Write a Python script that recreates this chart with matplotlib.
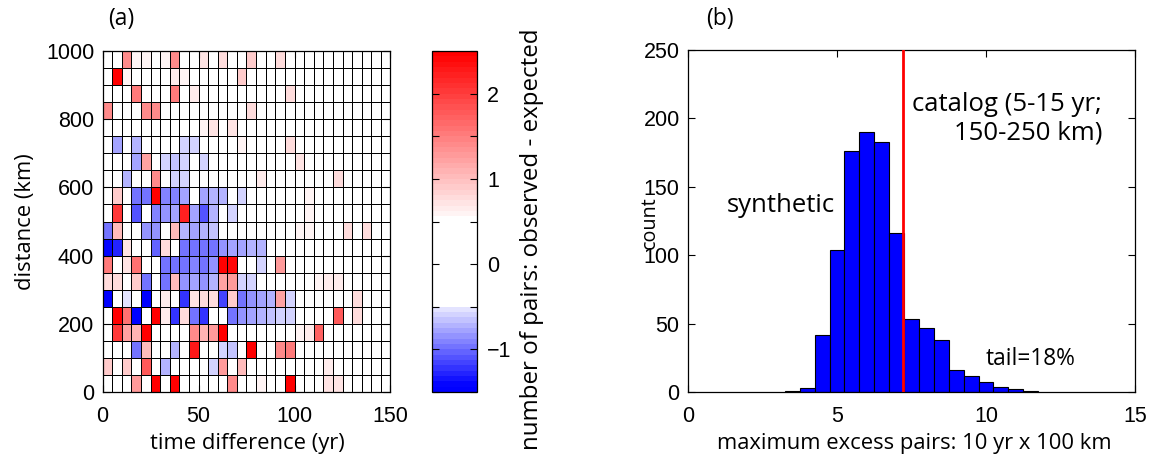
import numpy as np
import matplotlib
matplotlib.use("Agg")
import matplotlib.pyplot as plt
from matplotlib.colors import ListedColormap
from matplotlib.ticker import MultipleLocator

# ---------------- data ----------------
# panel (a): observed - expected pairs, rows from 950-1000 km (top) down to 0-50 km
excess_top_to_bottom = [
    [0, 0, 1.4, .6, .6, 0, .6, 1.4, 0, 0, .7, 0, .8, 0, 0, .9, 0, 0, .8, 0, 0, 0, 0, 0, 0, 0, 0, 0, 0, 0],
    [0, 2.5, .6, 0, 0, 0, 0, .65, .6, 0, 0, 0, 0, 0, .9, 0, 0, 0, 0, 0, 0, 0, 0, 0, 0, 0, 0, 0, 0, 0],
    [0, 0, 0, 1.5, 0, 0, 0, 1.5, 0, .65, 0, 0, 0, 0, 0, 0, 0, 0, 0, .8, 0, 0, 0, 0, 0, 0, 0, 0, 0, 0],
    [1.4, 0, 0, 0, 1.4, 1.4, 0, 0, 0, 0, 0, 0, 0, 0, 0, .8, 0, 0, 0, 0, 0, 0, 0, 0, 0, 0, 0, 0, 0, 0],
    [0, 0, 0, 0, 0, 0, 0, 0, 0, 0, .6, .7, 0, .7, 0, 0, 0, 0, 0, 0, 0, 0, 0, 0, 0, 0, 0, 0, 0, 0],
    [0, -.8, 0, -.75, 0, 0, 0, 0, -.6, -.6, 0, 0, 0, 0, .6, 0, 0, 0, 0, .8, 0, 0, 0, 0, 0, 0, 0, 0, 0, 0],
    [0, 0, 0, -.8, 1.2, 0, -.6, -.65, -.6, 0, -.6, 0, 0, 0, 0, 0, 0, 0, 0, 0, .7, 0, 0, 0, 0, 0, 0, 0, 0, 0],
    [0, 0, -.7, 0, 0, 1.4, 0, -.6, -.6, 0, 0, 0, 0, 0, 0, 0, .65, 0, 0, 0, 0, 0, 0, 0, .8, 0, 0, 0, 0, 0],
    [0, .9, 0, -1, -1, 2.5, -.9, -.9, -.8, 0, -.8, -.75, -.7, 0, -.6, 0, 0, 0, 0, 0, 0, .6, 0, 0, 0, 0, 0, 0, 0, 0],
    [0, 2, 0, -1.1, 0, -.9, -.85, -.8, 2.2, -.8, -1.1, -.75, 0, -.6, 0, 0, 0, 0, 0, 0, 0, .6, 0, 0, 0, 0, 0, 0, 0, 0],
    [-1, 1, 0, 0, -.85, -.85, 0, 1, -.75, -.8, -.75, -.65, 0, 0, 0, 0, 0, 0, 0, 0, .6, .6, 0, 0, 0, .8, 0, .8, 0, 0],
    [-1.4, -1.3, .7, 0, 0, -1.05, .8, 0, -.95, -1, -1, -.95, -.85, -.8, -.8, -.75, -.7, 0, 0, 0, 0, 0, 0, 0, 0, 0, 0, 0, 0, 0],
    [1.5, 0, .7, 1.6, 0, 0, -1, -1, -.95, -.9, -.95, -.85, 2.5, 2.4, 0, 0, -.6, 0, 1.3, 0, 0, 0, 0, 0, 0, 0, 0, 0, 0, 0],
    [.8, .8, 0, .9, -1, 0, -.95, 1, -.85, -.8, -.85, -.75, 1.2, 1.3, -.6, -.6, 0, 0, 0, 0, 0, 0, .6, .65, .65, 0, 0, 0, 0, 0],
    [-1.5, 0, -.55, 0, -1.5, 0, .65, 0, -1.25, .7, .8, .8, -1.15, .9, -.95, -.85, -.8, -.75, 1.2, -.6, 0, 0, 0, 0, 0, 0, .75, 0, 0, 0],
    [0, 2.5, 1.6, -1.45, 0, 2.5, .65, -1.2, .8, -1, -1.2, 0, 0, -1, -.85, -.8, -.75, -.65, -.6, -.6, 0, 0, 0, 0, 1.8, 0, .8, 0, 0, 0],
    [0, 2, 1.2, 1.1, 2.5, 0, 0, 0, 0, 1.4, 1.1, 1.3, 2.5, 0, 0, 0, 0, 0, 0, 0, .6, .65, 1.7, 0, 0, 0, 0, 0, 0, 0],
    [0, 0, 0, -1, 1, 0, 0, -.75, 0, 2.3, 0, 0, -.6, -.65, 0, 2.5, 0, 0, 1.4, 1.5, 0, 0, 0, 0, 0, 0, 0, 0, 0, 0],
    [.9, 0, .9, 0, 1.8, 0, -.7, 0, 0, 0, 0, -.6, 1.3, 0, 1, 0, 0, 0, 0, 0, 0, 0, 0, .65, 0, 0, 0, 0, 0, 0],
    [0, 0, 0, 1.3, 0, 2.5, 0, 2.5, 0, 0, 0, 0, 0, 1.4, 0, 0, .6, .55, 0, 2.5, 0, 0, 0, .7, .7, 0, 0, 0, 0, 0],
]
time_bin_yr = 5
distance_bin_km = 50
cbar_ticks = [-1, 0, 1, 2]

# panel (b): histogram of maximum excess pairs in synthetic catalogs
hist_centers = [3.5, 4.0, 4.5, 5.0, 5.5, 6.0, 6.5, 7.0, 7.5, 8.0, 8.5, 9.0, 9.5, 10.0, 10.5, 11.0, 11.5]
hist_counts = [1, 3, 42, 104, 176, 190, 183, 116, 53, 47, 38, 16, 12, 7, 4, 2, 1]
catalog_value = 7.22

# ---------------- style ----------------
TICKFONT = "Liberation Sans"
LABFONT = "Open Sans"
TFS = 15.5
LFS = 15.8
ANNFS = 18.5

W, H = 1149.0, 458.0
fig = plt.figure(figsize=(W / 100, H / 100), dpi=100)

# colormap: blue -> white plateau -> red (64 levels)
vmin, vmax = -1.5, 2.5
nlev = 64
edges = np.linspace(vmin, vmax, nlev + 1)
mids = 0.5 * (edges[:-1] + edges[1:])
cols = []
for v in mids:
    if v < -0.5:
        t = min(1.0, (-0.5 - v) / 1.0 + 0.08)
        cols.append((1 - t, 1 - t, 1.0))
    elif v > 0.55:
        t = min(1.0, (v - 0.55) / 1.95 + 0.02)
        cols.append((1.0, 1 - t, 1 - t))
    else:
        cols.append((1.0, 1.0, 1.0))
cmap = ListedColormap(cols)

Z = np.flipud(np.array(excess_top_to_bottom, dtype=float))
nrow, ncol = Z.shape
t_edges = np.arange(ncol + 1) * time_bin_yr
d_edges = np.arange(nrow + 1) * distance_bin_km


def style_ticks(ax):
    ax.tick_params(direction="in", length=5, width=0.8, top=True, right=True,
                   labelsize=TFS)
    ax.tick_params(axis="x", pad=10)
    ax.tick_params(axis="y", pad=6)
    for lab in ax.get_xticklabels() + ax.get_yticklabels():
        lab.set_fontfamily(TICKFONT)
    for s in ax.spines.values():
        s.set_linewidth(0.9)


def fx(px):
    return px / W


def fy(py):
    return 1 - py / H


# ---- panel (a) ----
axA = fig.add_axes([102.5 / W, (H - 392) / H, 288 / W, 341 / H])
mesh = axA.pcolormesh(t_edges, d_edges, Z, cmap=cmap, vmin=vmin, vmax=vmax,
                      edgecolors="k", linewidth=0.6)
axA.set_xlim(0, ncol * time_bin_yr)
axA.set_ylim(0, nrow * distance_bin_km)
axA.set_xticks([0, 50, 100, 150])
axA.set_yticks(np.arange(0, 1001, 200))
style_ticks(axA)
fig.text(fx(247), fy(443), "time difference (yr)", fontfamily=LABFONT,
         fontsize=LFS, ha="center", va="center")
fig.text(fx(25), fy(222), "distance (km)", fontfamily=LABFONT, fontsize=LFS,
         ha="center", va="center", rotation=90)
fig.text(fx(108), fy(19), "(a)", fontfamily=LABFONT, fontsize=16.5,
         ha="left", va="center")

# colorbar
cax = fig.add_axes([432.5 / W, (H - 392) / H, 45 / W, 341 / H])
cb = fig.colorbar(mesh, cax=cax)
cb.outline.set_linewidth(0.9)
cax.set_yticks(cbar_ticks)
cax.set_yticklabels([str(t).replace("-", "\u2212") for t in cbar_ticks])
cax.yaxis.set_minor_locator(MultipleLocator(0.5))
cax.tick_params(which="both", direction="in", length=5, width=0.8, left=True,
                right=True, labelsize=TFS, pad=7)
for lab in cax.get_yticklabels():
    lab.set_fontfamily(TICKFONT)
fig.text(fx(532), fy(239), "number of pairs: observed - expected",
         fontfamily=LABFONT, fontsize=17.4, ha="center", va="center",
         rotation=90)

# ---- panel (b) ----
axB = fig.add_axes([688 / W, (H - 392) / H, 447 / W, 342 / H])
axB.bar(hist_centers, hist_counts, width=0.5, color=(0, 0, 1), edgecolor="k",
        linewidth=0.8, zorder=2)
axB.axvline(catalog_value, color=(1, 0, 0), linewidth=2, zorder=3)
axB.set_xlim(0, 15)
axB.set_ylim(0, 250)
axB.set_xticks([0, 5, 10, 15])
axB.set_yticks(np.arange(0, 251, 50))
style_ticks(axB)
fig.text(fx(914), fy(443), "maximum excess pairs: 10 yr x 100 km",
         fontfamily=LABFONT, fontsize=LFS, ha="center", va="center")
fig.text(fx(650), fy(223), "count", fontfamily=LABFONT, fontsize=14.2,
         ha="center", va="center", rotation=90)
fig.text(fx(706), fy(19), "(b)", fontfamily=LABFONT, fontsize=16.5,
         ha="left", va="center")
axB.text(1.3, 136, "synthetic", fontfamily=LABFONT, fontsize=ANNFS,
         ha="left", va="center")
axB.text(7.5, 210, "catalog (5-15 yr;", fontfamily=LABFONT, fontsize=ANNFS,
         ha="left", va="center")
axB.text(13.9, 189, "150-250 km)", fontfamily=LABFONT, fontsize=ANNFS,
         ha="right", va="center")
axB.text(10.0, 24, "tail=18%", fontfamily=LABFONT, fontsize=16.4,
         ha="left", va="center")

fig.savefig("out.png", dpi=100)
